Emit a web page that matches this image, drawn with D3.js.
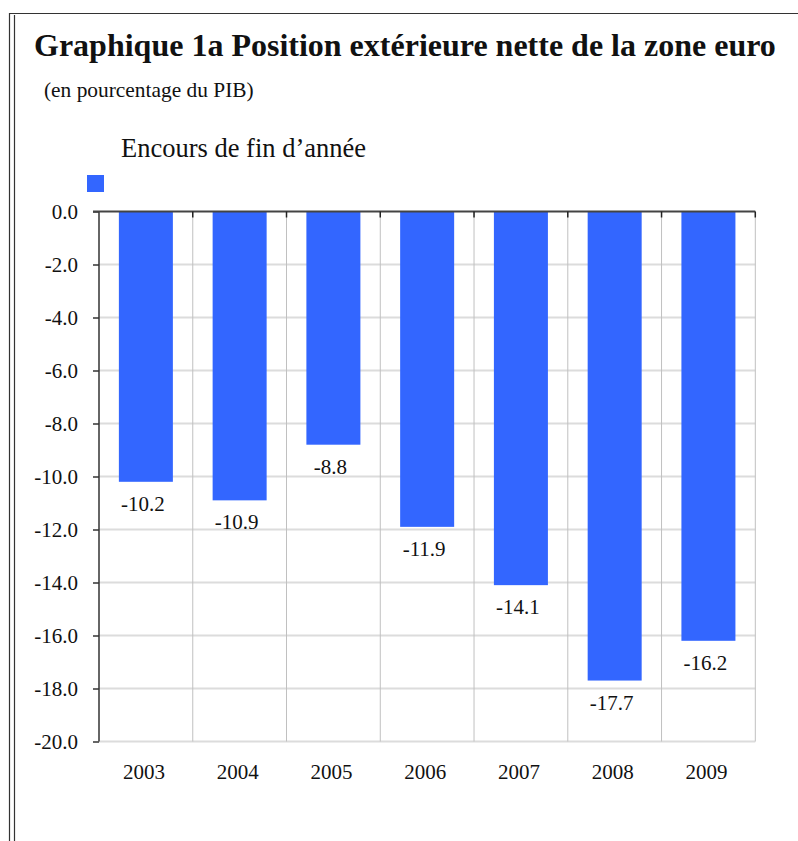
<!DOCTYPE html>
<html>
<head>
<meta charset="utf-8">
<script src="https://cdn.jsdelivr.net/npm/d3@7"></script>
<style>
  body { margin: 0; background: #fff; }
  text { font-family: "Liberation Serif", "Times New Roman", serif; fill: #111; }
</style>
</head>
<body>
<div id="chart"></div>
<script>
// données
const annees = ["2003", "2004", "2005", "2006", "2007", "2008", "2009"];
const encours = [-10.2, -10.9, -8.8, -11.9, -14.1, -17.7, -16.2];
const graduations = [0, -2, -4, -6, -8, -10, -12, -14, -16, -18, -20];

const titre = "Graphique 1a Position extérieure nette de la zone euro";
const sousTitre = "(en pourcentage du PIB)";
const serie = "Encours de fin d\u2019année";

const W = 798, H = 841;
const gauche = 99, droite = 755.3, haut = 211.5, bas = 741.5;

const fmt = d3.formatLocale({ decimal: ".", thousands: ",", grouping: [3], currency: ["", ""], minus: "-" }).format(".1f");

const svg = d3.select("#chart").append("svg")
    .attr("width", W)
    .attr("height", H);

// cadre (double trait à gauche)
svg.append("line").attr("x1", 9).attr("x2", W).attr("y1", 13.5).attr("y2", 13.5)
    .attr("stroke", "#333").attr("stroke-width", 1.2);
svg.append("line").attr("x1", 9.5).attr("x2", 9.5).attr("y1", 13).attr("y2", H)
    .attr("stroke", "#333").attr("stroke-width", 1.2);
svg.append("line").attr("x1", 14.5).attr("x2", 14.5).attr("y1", 15).attr("y2", H)
    .attr("stroke", "#333").attr("stroke-width", 1.2);

// titres
svg.append("text").attr("x", 34).attr("y", 56)
    .attr("font-size", 32).attr("font-weight", "bold").text(titre);
svg.append("text").attr("x", 44).attr("y", 97)
    .attr("font-size", 21.4).text(sousTitre);

// légende
svg.append("text").attr("x", 121).attr("y", 157)
    .attr("font-size", 26.5).text(serie);
svg.append("rect").attr("x", 87).attr("y", 175).attr("width", 17).attr("height", 17)
    .attr("fill", "#3366ff");

// échelles
const x = d3.scaleBand().domain(annees).range([gauche, droite]).padding(0);
const y = d3.scaleLinear().domain([-20, 0]).range([bas, haut]);

// grille horizontale
svg.append("g").selectAll("line")
    .data(graduations.filter(d => d !== 0))
    .join("line")
    .attr("x1", gauche).attr("x2", droite)
    .attr("y1", d => y(d)).attr("y2", d => y(d))
    .attr("stroke", "#dcdcdc").attr("stroke-width", 2);

// grille verticale
const bornes = annees.map(a => x(a)).slice(1).concat([droite]);
svg.append("g").selectAll("line")
    .data(bornes)
    .join("line")
    .attr("x1", d => d).attr("x2", d => d)
    .attr("y1", haut).attr("y2", bas)
    .attr("stroke", "#c0c0c0").attr("stroke-width", 1);

// barres
const largeur = x.bandwidth() * 0.576;
svg.append("g").selectAll("rect")
    .data(encours)
    .join("rect")
    .attr("x", (d, i) => x(annees[i]) + (x.bandwidth() - largeur) / 2)
    .attr("y", y(0))
    .attr("width", largeur)
    .attr("height", d => y(d) - y(0))
    .attr("fill", "#3366ff");

// étiquettes de valeurs
svg.append("g").selectAll("text")
    .data(encours)
    .join("text")
    .attr("x", (d, i) => x(annees[i]) + x.bandwidth() / 2 - 3)
    .attr("y", d => y(d) + 29)
    .attr("text-anchor", "middle")
    .attr("font-size", 21)
    .text(d => fmt(d));

// axe vertical
const axeY = svg.append("g")
    .attr("transform", "translate(" + gauche + ",0)")
    .call(d3.axisLeft(y).tickValues(graduations).tickSize(6).tickPadding(15).tickFormat(fmt));
axeY.select(".domain").attr("stroke", "#333").attr("stroke-width", 1.5)
    .attr("d", "M0," + haut + "V" + bas);
axeY.selectAll(".tick line").attr("stroke", "#333").attr("stroke-width", 1.5);
axeY.selectAll(".tick text")
    .attr("font-family", "Liberation Serif, Times New Roman, serif")
    .attr("font-size", 21).attr("fill", "#111");

// ligne du zéro et petites graduations
svg.append("line").attr("x1", gauche - 6).attr("x2", droite)
    .attr("y1", y(0)).attr("y2", y(0))
    .attr("stroke", "#444").attr("stroke-width", 2);
svg.append("g").selectAll("line")
    .data(bornes)
    .join("line")
    .attr("x1", d => d).attr("x2", d => d)
    .attr("y1", y(0)).attr("y2", y(0) + 6)
    .attr("stroke", "#222").attr("stroke-width", 1.5);

// années
svg.append("g").selectAll("text")
    .data(annees)
    .join("text")
    .attr("x", d => x(d) + x.bandwidth() / 2 - 2)
    .attr("y", 779)
    .attr("text-anchor", "middle")
    .attr("font-size", 21)
    .text(d => d);
</script>
</body>
</html>
